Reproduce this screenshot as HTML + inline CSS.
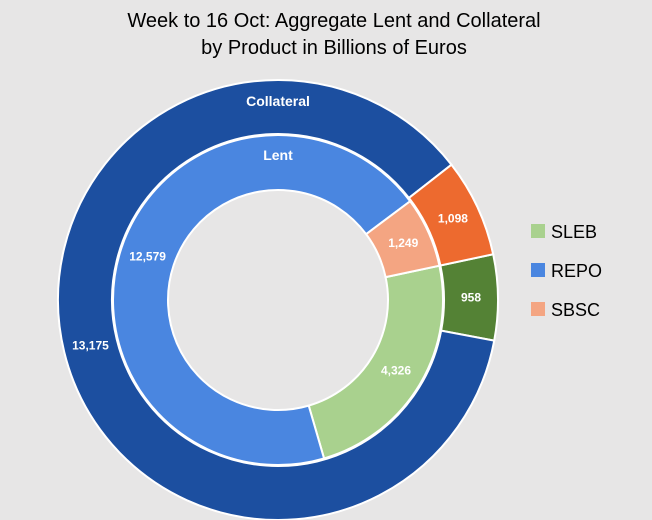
<!DOCTYPE html>
<html><head><meta charset="utf-8"><style>
html,body{margin:0;padding:0;background:#e7e6e6;}
svg{display:block;font-family:"Liberation Sans",sans-serif;}
</style></head><body>
<svg id="chart" width="652" height="520" viewBox="0 0 652 520">
<rect width="652" height="520" fill="#e7e6e6"/>
<text x="334" y="27" text-anchor="middle" font-size="20" fill="#000">Week to 16 Oct:  Aggregate Lent and Collateral</text>
<text x="334" y="54" text-anchor="middle" font-size="20" fill="#000">by Product in Billions of Euros</text>
<g id="rings"></g>
<g id="labels"></g>
<g>
<rect x="531" y="224" width="14" height="14" fill="#a9d18e"/>
<text x="551" y="238" font-size="18" fill="#000">SLEB</text>
<rect x="531" y="263" width="14" height="14" fill="#4a86e0"/>
<text x="551" y="277" font-size="18" fill="#000">REPO</text>
<rect x="531" y="302" width="14" height="14" fill="#f4a582"/>
<text x="551" y="316" font-size="18" fill="#000">SBSC</text>
</g>
</svg>
<script>
const categories = ["SLEB", "REPO", "SBSC"];
const collateralValues = [958, 13175, 1098];
const lentValues = [4326, 12579, 1249];
const collateralColors = ["#548235", "#1c4fa0", "#ed6a2f"];
const lentColors = ["#a9d18e", "#4a86e0", "#f4a582"];
const cx = 278, cy = 300, startDeg = 78;
const NS = "http://www.w3.org/2000/svg";
const rings = document.getElementById("rings");
const labels = document.getElementById("labels");
function pt(r, deg){const a = deg*Math.PI/180; return [cx + r*Math.sin(a), cy - r*Math.cos(a)];}
function arc(r0, r1, a0, a1){
  const large = (a1-a0) > 180 ? 1 : 0;
  const p0 = pt(r1,a0), p1 = pt(r1,a1), p2 = pt(r0,a1), p3 = pt(r0,a0);
  return `M${p0[0]},${p0[1]} A${r1},${r1} 0 ${large} 1 ${p1[0]},${p1[1]} L${p2[0]},${p2[1]} A${r0},${r0} 0 ${large} 0 ${p3[0]},${p3[1]} Z`;
}
function drawRing(values, colors, r0, r1, name){
  const total = values.reduce((a,b)=>a+b,0);
  let a = startDeg;
  values.forEach((v,i)=>{
    const span = v/total*360;
    const p = document.createElementNS(NS,"path");
    p.setAttribute("d", arc(r0, r1, a, a+span));
    p.setAttribute("fill", colors[i]);
    p.setAttribute("stroke", "#fff");
    p.setAttribute("stroke-width", "2");
    
    
    rings.appendChild(p);
    const mid = a + span/2;
    const lp = pt((r0+r1)/2, mid);
    const t = document.createElementNS(NS,"text");
    t.setAttribute("x", lp[0]); t.setAttribute("y", lp[1]+4);
    t.setAttribute("text-anchor","middle");
    t.setAttribute("font-size","12"); t.setAttribute("font-weight","bold");
    t.setAttribute("fill","#fff");
    t.textContent = v.toLocaleString("en-US");
    
    
    labels.appendChild(t);
    a += span;
  });
}
drawRing(collateralValues, collateralColors, 166, 220, "collateral");
drawRing(lentValues, lentColors, 110, 165, "lent");
const t1 = document.createElementNS(NS,"text");
t1.setAttribute("x", cx); t1.setAttribute("y", 106); t1.setAttribute("text-anchor","middle");
t1.setAttribute("font-size","14"); t1.setAttribute("font-weight","bold"); t1.setAttribute("fill","#fff");
t1.textContent = "Collateral";


labels.appendChild(t1);
const t2 = document.createElementNS(NS,"text");
t2.setAttribute("x", cx); t2.setAttribute("y", 160); t2.setAttribute("text-anchor","middle");
t2.setAttribute("font-size","14"); t2.setAttribute("font-weight","bold"); t2.setAttribute("fill","#fff");
t2.textContent = "Lent";


labels.appendChild(t2);
</script>
</body></html>
